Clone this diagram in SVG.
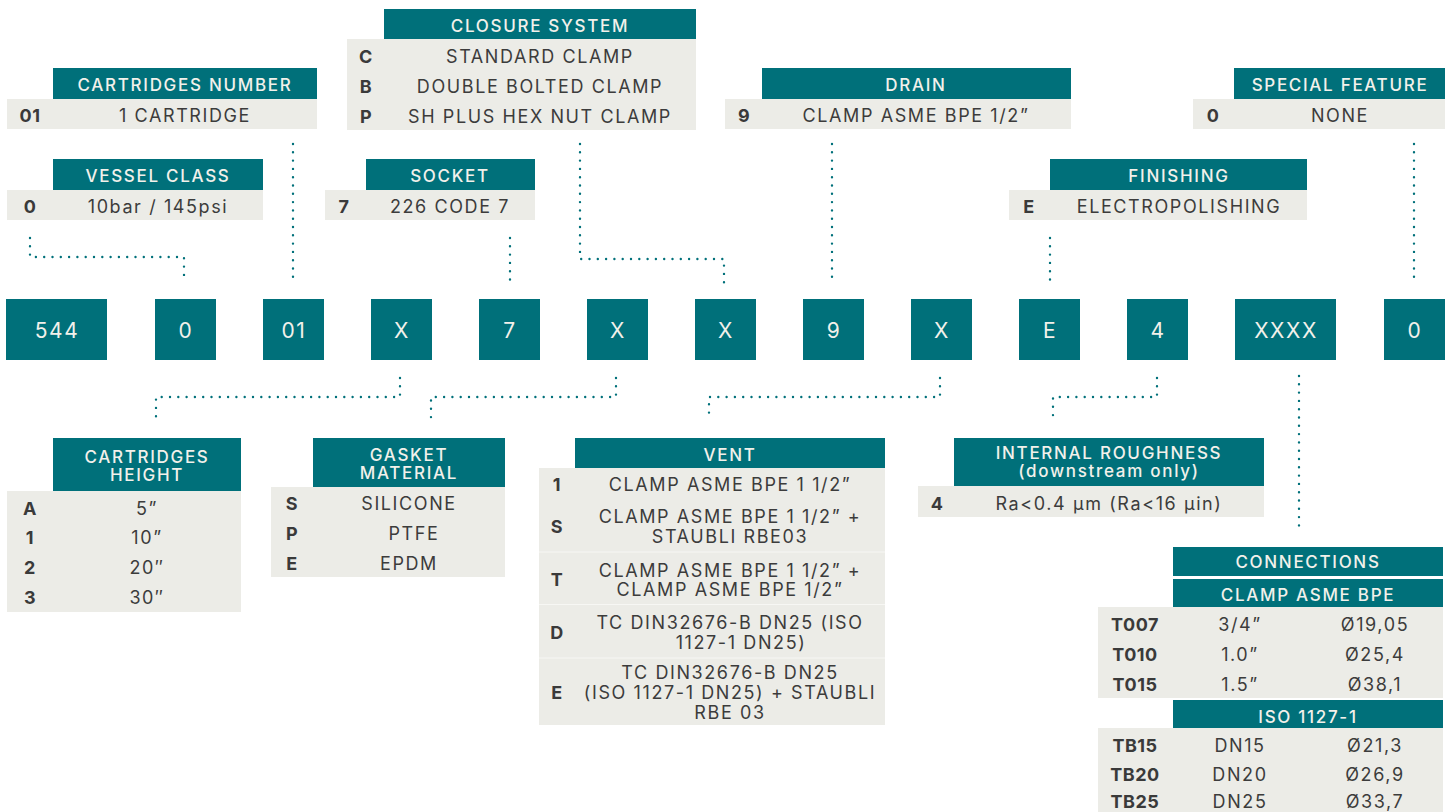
<svg xmlns="http://www.w3.org/2000/svg" width="1452" height="812" viewBox="0 0 1452 812">
<style>
.hd{fill:#00707A}
.bg{fill:#ECECE7}
.ht{font-family:Inter,"Liberation Sans",sans-serif;font-size:17px;font-weight:500;fill:#F2F1EB;text-anchor:middle;letter-spacing:1.7px}
.vt{font-family:Inter,"Liberation Sans",sans-serif;font-size:18px;font-weight:400;fill:#3C3C3C;text-anchor:middle;letter-spacing:1.6px}
.cd{font-family:Inter,"Liberation Sans",sans-serif;font-size:18px;font-weight:700;fill:#3A3A3A;text-anchor:middle;letter-spacing:0.5px}
.bx{fill:#00707A}
.bt{font-family:Inter,"Liberation Sans",sans-serif;font-size:21px;font-weight:400;fill:#F2F1EB;text-anchor:middle;letter-spacing:1.6px}
.cn{fill:none;stroke:#00707A;stroke-width:2.4;stroke-linecap:round;stroke-dasharray:0 8.3}
.sep{stroke:#F7F7F4;stroke-width:1}
</style>

<g id="connectors">
<path class="cn" d="M30,238 V257 H184 V283"/>
<path class="cn" d="M293,144 V283"/>
<path class="cn" d="M580,144 V259 H724 V290"/>
<path class="cn" d="M510,238 V283"/>
<path class="cn" d="M832,144 V283"/>
<path class="cn" d="M1050,238 V283"/>
<path class="cn" d="M1414,144 V283"/>
<path class="cn" d="M400,378 V397 H156 V419"/>
<path class="cn" d="M616,378 V397 H431 V419"/>
<path class="cn" d="M940,378 V397 H709 V419"/>
<path class="cn" d="M1157,378 V397 H1053 V419"/>
<path class="cn" d="M1299,376 V532"/>
</g>

<g id="code-boxes">
<g id="box-544"><rect class="bx" x="6" y="299" width="101" height="61"/><text class="bt" x="57" y="337.5">544</text></g>
<g id="box-0"><rect class="bx" x="155" y="299" width="61" height="61"/><text class="bt" x="186" y="337.5">0</text></g>
<g id="box-01"><rect class="bx" x="263" y="299" width="61" height="61"/><text class="bt" x="294" y="337.5">01</text></g>
<g id="box-x1"><rect class="bx" x="371" y="299" width="61" height="61"/><text class="bt" x="402" y="337.5">X</text></g>
<g id="box-7"><rect class="bx" x="479" y="299" width="61" height="61"/><text class="bt" x="510" y="337.5">7</text></g>
<g id="box-x2"><rect class="bx" x="587" y="299" width="61" height="61"/><text class="bt" x="618" y="337.5">X</text></g>
<g id="box-x3"><rect class="bx" x="695" y="299" width="61" height="61"/><text class="bt" x="726" y="337.5">X</text></g>
<g id="box-9"><rect class="bx" x="803" y="299" width="61" height="61"/><text class="bt" x="834" y="337.5">9</text></g>
<g id="box-x4"><rect class="bx" x="911" y="299" width="61" height="61"/><text class="bt" x="942" y="337.5">X</text></g>
<g id="box-e"><rect class="bx" x="1019" y="299" width="61" height="61"/><text class="bt" x="1050" y="337.5">E</text></g>
<g id="box-4"><rect class="bx" x="1127" y="299" width="61" height="61"/><text class="bt" x="1158" y="337.5">4</text></g>
<g id="box-xxxx"><rect class="bx" x="1235" y="299" width="101" height="61"/><text class="bt" x="1286" y="337.5">XXXX</text></g>
<g id="box-0b"><rect class="bx" x="1384" y="299" width="61" height="61"/><text class="bt" x="1415" y="337.5">0</text></g>
</g>

<g id="closure-system">
<rect class="hd" x="384" y="9" width="312" height="30"/>
<text class="ht" x="540" y="32">CLOSURE SYSTEM</text>
<rect class="bg" x="347" y="39" width="349" height="91"/>
<text class="cd" x="366" y="63">C</text><text class="vt" x="540" y="63">STANDARD CLAMP</text>
<text class="cd" x="366" y="93">B</text><text class="vt" x="540" y="93">DOUBLE BOLTED CLAMP</text>
<text class="cd" x="366" y="123">P</text><text class="vt" x="540" y="123">SH PLUS HEX NUT CLAMP</text>
</g>

<g id="cartridges-number">
<rect class="hd" x="53" y="68" width="264" height="31"/>
<text class="ht" x="185" y="91">CARTRIDGES NUMBER</text>
<rect class="bg" x="7" y="99" width="310" height="30"/>
<text class="cd" x="30" y="122">01</text><text class="vt" x="185" y="122">1 CARTRIDGE</text>
</g>

<g id="drain">
<rect class="hd" x="762" y="68" width="309" height="31"/>
<text class="ht" x="916" y="91">DRAIN</text>
<rect class="bg" x="725" y="99" width="346" height="30"/>
<text class="cd" x="744" y="122">9</text><text class="vt" x="916" y="122">CLAMP ASME BPE 1/2”</text>
</g>

<g id="special-feature">
<rect class="hd" x="1234" y="68" width="211" height="31"/>
<text class="ht" x="1340" y="91">SPECIAL FEATURE</text>
<rect class="bg" x="1193" y="99" width="252" height="30"/>
<text class="cd" x="1213" y="122">0</text><text class="vt" x="1340" y="122">NONE</text>
</g>

<g id="vessel-class">
<rect class="hd" x="53" y="159" width="210" height="31"/>
<text class="ht" x="158" y="182">VESSEL CLASS</text>
<rect class="bg" x="7" y="190" width="256" height="30"/>
<text class="cd" x="30" y="213">0</text><text class="vt" x="158" y="213">10bar / 145psi</text>
</g>

<g id="socket">
<rect class="hd" x="366" y="159" width="169" height="31"/>
<text class="ht" x="450" y="182">SOCKET</text>
<rect class="bg" x="325" y="190" width="210" height="30"/>
<text class="cd" x="344" y="213">7</text><text class="vt" x="450" y="213">226 CODE 7</text>
</g>

<g id="finishing">
<rect class="hd" x="1050" y="159" width="257" height="31"/>
<text class="ht" x="1179" y="182">FINISHING</text>
<rect class="bg" x="1009" y="190" width="298" height="30"/>
<text class="cd" x="1029" y="213">E</text><text class="vt" x="1179" y="213">ELECTROPOLISHING</text>
</g>

<g id="cartridges-height">
<rect class="hd" x="53" y="438" width="188" height="53"/>
<text class="ht" x="147" y="463">CARTRIDGES</text>
<text class="ht" x="147" y="481">HEIGHT</text>
<rect class="bg" x="7" y="491" width="234" height="121"/>
<text class="cd" x="30" y="515">A</text><text class="vt" x="147" y="515">5”</text>
<text class="cd" x="30" y="544">1</text><text class="vt" x="147" y="544">10”</text>
<text class="cd" x="30" y="574">2</text><text class="vt" x="147" y="574">20″</text>
<text class="cd" x="30" y="604">3</text><text class="vt" x="147" y="604">30″</text>
</g>

<g id="gasket-material">
<rect class="hd" x="313" y="438" width="192" height="49"/>
<text class="ht" x="409" y="461">GASKET</text>
<text class="ht" x="409" y="479">MATERIAL</text>
<rect class="bg" x="271" y="487" width="234" height="90"/>
<text class="cd" x="292" y="510">S</text><text class="vt" x="409" y="510">SILICONE</text>
<text class="cd" x="292" y="540">P</text><text class="vt" x="414" y="540">PTFE</text>
<text class="cd" x="292" y="570">E</text><text class="vt" x="409" y="570">EPDM</text>
</g>

<g id="vent">
<rect class="hd" x="575" y="438" width="310" height="30"/>
<text class="ht" x="730" y="461">VENT</text>
<rect class="bg" x="539" y="468" width="346" height="257"/>
<line class="sep" x1="539" y1="552" x2="885" y2="552"/>
<line class="sep" x1="539" y1="604.5" x2="885" y2="604.5"/>
<line class="sep" x1="539" y1="658" x2="885" y2="658"/>
<text class="cd" x="557" y="491">1</text><text class="vt" x="730" y="491">CLAMP ASME BPE 1 1/2”</text>
<text class="cd" x="557" y="533">S</text><text class="vt" x="730" y="523">CLAMP ASME BPE 1 1/2” +</text><text class="vt" x="730" y="543">STAUBLI RBE03</text>
<text class="cd" x="557" y="586">T</text><text class="vt" x="730" y="577">CLAMP ASME BPE 1 1/2” +</text><text class="vt" x="730" y="596">CLAMP ASME BPE 1/2”</text>
<text class="cd" x="557" y="639">D</text><text class="vt" x="730" y="629">TC DIN32676-B DN25 (ISO</text><text class="vt" x="741" y="649">1127-1 DN25)</text>
<text class="cd" x="557" y="699">E</text><text class="vt" x="730" y="679">TC DIN32676-B DN25</text><text class="vt" x="730" y="699">(ISO 1127-1 DN25) + STAUBLI</text><text class="vt" x="730" y="719">RBE 03</text>
</g>

<g id="internal-roughness">
<rect class="hd" x="954" y="438" width="310" height="48"/>
<text class="ht" x="1109" y="459">INTERNAL ROUGHNESS</text>
<text class="ht" x="1109" y="477">(downstream only)</text>
<rect class="bg" x="918" y="486" width="346" height="31"/>
<text class="cd" x="937" y="510">4</text><text class="vt" x="1109" y="510">Ra&lt;0.4 µm (Ra&lt;16 µin)</text>
</g>

<g id="connections">
<rect class="hd" x="1173" y="547" width="270" height="29"/>
<text class="ht" x="1308" y="568">CONNECTIONS</text>
<rect class="hd" x="1173" y="579" width="270" height="28"/>
<text class="ht" x="1308" y="601">CLAMP ASME BPE</text>
<rect class="bg" x="1098" y="607" width="345" height="91"/>
<text class="cd" x="1135" y="631">T007</text><text class="vt" x="1240" y="631">3/4”</text><text class="vt" x="1375" y="631">Ø19,05</text>
<text class="cd" x="1135" y="661">T010</text><text class="vt" x="1240" y="661">1.0”</text><text class="vt" x="1375" y="661">Ø25,4</text>
<text class="cd" x="1135" y="691">T015</text><text class="vt" x="1240" y="691">1.5”</text><text class="vt" x="1375" y="691">Ø38,1</text>
<rect class="hd" x="1173" y="700" width="270" height="28"/>
<text class="ht" x="1308" y="723">ISO 1127-1</text>
<rect class="bg" x="1098" y="728" width="345" height="84"/>
<text class="cd" x="1135" y="752">TB15</text><text class="vt" x="1240" y="752">DN15</text><text class="vt" x="1375" y="752">Ø21,3</text>
<text class="cd" x="1135" y="781">TB20</text><text class="vt" x="1240" y="781">DN20</text><text class="vt" x="1375" y="781">Ø26,9</text>
<text class="cd" x="1135" y="808">TB25</text><text class="vt" x="1240" y="808">DN25</text><text class="vt" x="1375" y="808">Ø33,7</text>
</g>
</svg>
